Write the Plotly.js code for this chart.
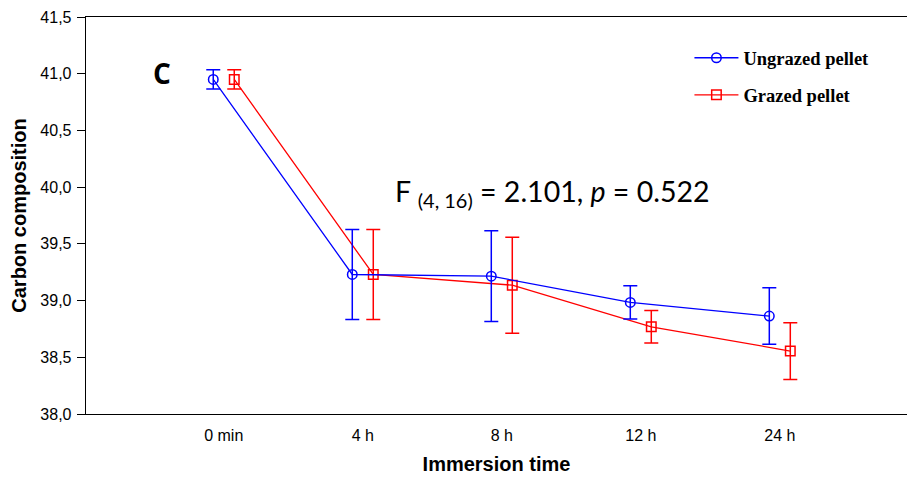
<!DOCTYPE html>
<html>
<head>
<meta charset="utf-8">
<script src="https://cdn.plot.ly/plotly-3.0.1.min.js"></script>
<style>body{margin:0;padding:0;background:#fff}#chart{width:907px;height:479px}</style>
</head>
<body>
<div id="chart"></div>
<script>
// Data
var categories = ["0 min", "4 h", "8 h", "12 h", "24 h"];
var ungrazedMean = [40.95, 39.23, 39.215, 38.984, 38.863];
var ungrazedErr  = [0.084, 0.396, 0.40, 0.147, 0.249];
var grazedMean   = [40.95, 39.23, 39.136, 38.769, 38.555];
var grazedErr    = [0.084, 0.396, 0.423, 0.144, 0.250];
var seriesNames  = ["Ungrazed pellet", "Grazed pellet"];
var yTicks = [38.0, 38.5, 39.0, 39.5, 40.0, 40.5, 41.0, 41.5];

var offset = 0.0755;
var idx = categories.map(function(_, i){ return i; });

var grazed = {
  x: idx.map(function(i){ return i + offset; }),
  y: grazedMean,
  error_y: {type: 'data', array: grazedErr, visible: true, color: '#ff0000', thickness: 1.5, width: 7},
  mode: 'lines+markers',
  name: seriesNames[1],
  legendgroup: 'g', legendrank: 2,
  line: {color: '#ff0000', width: 1.3},
  marker: {symbol: 'square-open', size: 9.5, color: '#ff0000', line: {width: 1.5, color: '#ff0000'}},
  type: 'scatter'
};
var ungrazed = {
  x: idx.map(function(i){ return i - offset; }),
  y: ungrazedMean,
  error_y: {type: 'data', array: ungrazedErr, visible: true, color: '#0000ff', thickness: 1.5, width: 7},
  mode: 'lines+markers',
  name: seriesNames[0],
  legendgroup: 'u', legendrank: 1,
  line: {color: '#0000ff', width: 1.3},
  marker: {symbol: 'circle-open', size: 9.5, color: '#0000ff', line: {width: 1.5, color: '#0000ff'}},
  type: 'scatter'
};

var layout = {
  width: 907, height: 479,
  margin: {l: 86, r: 0, t: 16.5, b: 65},
  paper_bgcolor: '#ffffff', plot_bgcolor: '#ffffff',
  separators: ',.',
  showlegend: true,
  legend: {
    x: 0.735, y: 0.944, xanchor: 'left', yanchor: 'top',
    font: {family: 'Liberation Serif, Times New Roman, serif', size: 18.5, color: '#000', weight: 'bold'},
    traceorder: 'grouped', tracegroupgap: 10,
    bgcolor: 'rgba(0,0,0,0)', itemwidth: 44
  },
  xaxis: {
    range: [-0.991, 4.915],
    tickvals: idx, ticktext: categories,
    showline: true, linecolor: '#000', linewidth: 1.3, mirror: true,
    ticks: '', showgrid: false, zeroline: false,
    ticklabelstandoff: 6,
    tickfont: {family: 'Liberation Sans Narrow, Arial Narrow, Liberation Sans, Arial, sans-serif', size: 16, color: '#000'},
    title: {text: 'Immersion time', font: {family: 'Liberation Sans, Arial, sans-serif', size: 20, color: '#000', weight: 'bold'}, standoff: 14}
  },
  yaxis: {
    range: [38.0, 41.5],
    tickvals: yTicks, tickformat: '.1f',
    showline: true, linecolor: '#000', linewidth: 1.3,
    ticks: 'outside', ticklen: 8, tickcolor: '#000', tickwidth: 1,
    ticklabelstandoff: 2,
    showgrid: false, zeroline: false,
    tickfont: {family: 'Liberation Sans, Arial, sans-serif', size: 16, color: '#000'},
    title: {text: 'Carbon composition', font: {family: 'Liberation Sans, Arial, sans-serif', size: 20, color: '#000', weight: 'bold'}, standoff: 8}
  },
  annotations: [
    {text: '<b>C</b>', xref: 'paper', yref: 'paper', x: (162-86)/821, y: 1 - (73-16.5)/397.5,
     xanchor: 'center', yanchor: 'middle', showarrow: false,
     font: {family: 'Open Sans, Lato, sans-serif', size: 28, color: '#000'}},
    {text: 'F <sub>(4, 16)</sub> = 2.101, <i>p</i> = 0.522', xref: 'paper', yref: 'paper',
     x: (552-86)/821, y: 1 - (193-16.5)/397.5, xanchor: 'center', yanchor: 'middle', showarrow: false,
     font: {family: 'Lato, Open Sans, sans-serif', size: 28.5, color: '#000'}}
  ]
};

Plotly.newPlot('chart', [grazed, ungrazed], layout, {staticPlot: true, displayModeBar: false});
</script>
</body>
</html>
